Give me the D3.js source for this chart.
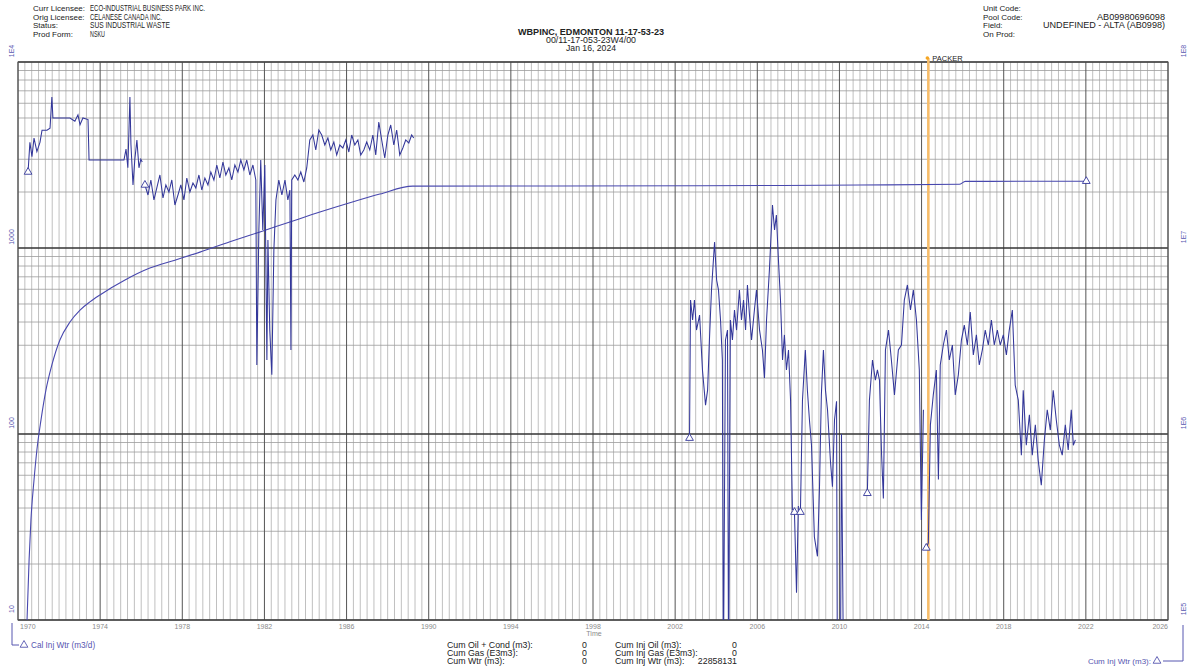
<!DOCTYPE html>
<html><head><meta charset="utf-8">
<script src="https://cdn.jsdelivr.net/npm/d3@7"></script>
<style>
body{margin:0;background:#fff;}
svg{display:block;font-family:"Liberation Sans",Arial,sans-serif;}
</style></head><body>
<svg id="c" width="1196" height="671"></svg>
<script>
// ---------------- DATA ----------------
const xTickYears = [1970,1974,1978,1982,1986,1990,1994,1998,2002,2006,2010,2014,2018,2022,2026];
const leftTickValues = [10,100,1000,10000];
const leftTickLabels = ["10","100","1000","1E4"];
const rightTickValues = [1e5,1e6,1e7,1e8];
const rightTickLabels = ["1E5","1E6","1E7","1E8"];

// Calendar-day water injection rate (m3/d); null = gap (new segment)
const rateYears = [
 1970.49,1970.58,1970.68,1970.78,1970.92,1971.07,1971.17,1971.41,1971.56,1971.65,1971.70,1972.53,1972.77,1972.92,1973.02,1973.16,1973.41,1973.46,1975.16,1975.26,1975.35,1975.45,1975.50,1975.60,1975.69,1975.79,1975.89,1975.98,1976.05,
 1976.10,
 1976.18,1976.33,1976.47,1976.62,1976.76,1976.91,1977.06,1977.20,1977.35,1977.49,1977.64,1977.79,1977.93,1978.08,1978.22,1978.37,1978.52,1978.66,1978.81,1978.95,1979.10,1979.25,1979.39,1979.54,1979.68,1979.83,1979.98,1980.12,1980.27,1980.41,1980.56,1980.71,1980.85,1981.00,1981.14,1981.29,1981.44,1981.58,1981.63,1981.73,1981.82,1981.92,1982.02,1982.12,1982.17,1982.26,1982.36,1982.46,1982.56,1982.70,1982.85,1983.00,1983.14,1983.24,1983.29,1983.33,1983.48,1983.63,1983.77,1983.92,1984.06,1984.21,1984.36,1984.50,1984.65,1984.79,1984.94,1985.09,1985.23,1985.38,1985.52,1985.67,1985.82,1985.96,1986.11,1986.25,1986.40,1986.55,1986.69,1986.84,1986.98,1987.13,1987.28,1987.42,1987.57,1987.71,1987.86,1988.01,1988.15,1988.30,1988.44,1988.59,1988.74,1988.88,1989.03,1989.17,1989.27,
 1995.00,
 2002.70,2002.75,2002.85,2002.94,2003.04,2003.19,2003.33,2003.48,2003.58,2003.67,2003.77,2003.92,2004.02,2004.11,2004.21,2004.30,2004.35,2004.45,2004.55,2004.60,2004.69,2004.79,2004.89,2004.99,2005.13,2005.23,2005.33,2005.43,2005.52,2005.62,2005.72,2005.86,2005.96,2006.11,2006.25,2006.35,2006.45,2006.59,2006.74,2006.84,2006.93,2007.03,2007.13,2007.23,2007.32,2007.42,2007.52,2007.62,2007.71,
 2007.76,
 2007.81,2007.91,2008.00,
 2008.05,
 2008.10,2008.20,2008.34,2008.44,2008.54,2008.64,2008.78,2008.93,2009.03,2009.12,2009.22,2009.32,2009.42,2009.56,2009.66,2009.76,2009.86,2009.90,2010.05,2010.10,2010.20,
 2010.80,
 2011.36,2011.46,2011.61,2011.75,2011.85,2011.95,2012.05,2012.14,2012.24,2012.39,2012.53,2012.68,2012.87,2013.02,2013.16,2013.31,2013.46,2013.60,2013.75,2013.89,2013.99,2014.09,
 2014.15,
 2014.23,2014.33,2014.43,2014.57,2014.72,2014.82,2014.91,2015.06,2015.21,2015.35,2015.50,2015.64,2015.79,2015.94,2016.08,2016.23,2016.37,2016.52,2016.67,2016.81,2016.96,2017.10,2017.25,2017.40,2017.54,2017.69,2017.83,2017.98,2018.13,2018.27,2018.42,2018.56,2018.71,2018.86,2018.95,2019.10,2019.25,2019.39,2019.54,2019.68,2019.83,2019.98,2020.12,2020.27,2020.41,2020.56,2020.71,2020.85,2021.00,2021.14,2021.29,2021.39,2021.49
];
const rateValues = [
 2562,3700,3100,3900,3300,3700,4300,4300,4400,6480,5000,5000,4800,5200,4600,5000,4900,2972,2972,3400,2700,6480,3600,2180,3000,3800,2700,3000,2900,
 null,
 2182,1927,2321,1812,2102,2469,1857,2182,2000,2321,1703,1927,2182,1812,2379,2000,2236,2102,2469,2050,2379,2182,2562,2321,2794,2379,2900,2469,2693,2321,2794,2562,2972,2626,2972,2469,2794,2321,235,1250,2972,1250,2794,250,1104,362,208,976,1812,2321,1927,2321,1812,2050,283,2321,2469,2321,2562,2264,2693,3808,4051,3365,4309,4051,3579,3904,3365,3715,3162,3579,3449,3808,3282,4051,3579,3808,3162,3365,3715,3365,4051,3162,4758,3808,3048,4051,4585,3579,4309,3162,3449,3808,3669,4051,3904,
 null,
 95,525,410,525,362,436,221,143,172,320,595,1077,673,595,410,250,5,320,362,5,410,320,464,362,595,410,525,362,633,436,320,464,595,362,283,200,410,762,1703,1250,1504,862,525,250,341,221,283,152,39,
 null,
 38,14,41,
 null,
 38,152,283,172,119,87,28,22,52,162,283,172,135,72,52,119,150,5,5,100,5,
 null,
 48,152,250,195,221,195,79,45,283,362,250,162,283,301,525,633,464,595,410,221,34.5,135,
 null,
 24.4,26,112,162,221,57,235,301,362,250,301,162,208,320,385,301,453,266,341,235,283,362,301,410,301,362,301,341,266,362,464,183,152,77,172,87,127,77,112,72,53,93,135,105,172,119,87,77,112,82,135,87,93
];

// Cumulative water injection (m3)
const cumYears = [1970.44,1970.54,1970.63,1970.78,1970.92,1971.12,1971.36,1971.65,1972.04,1972.53,1973.02,1973.50,1973.99,1975.21,1976.42,1977.64,1978.86,1980.32,1981.78,1983.24,1984.70,1986.16,1987.62,1989.22,2003.19,2011.00,2015.84,2016.13,2022.02];
const cumValues = [1.0e5,2.1e5,3.45e5,5.66e5,8.2e5,1.19e6,1.72e6,2.35e6,3.2e6,4.0e6,4.64e6,5.13e6,5.59e6,6.73e6,7.8e6,8.6e6,9.5e6,1.08e7,1.22e7,1.38e7,1.56e7,1.75e7,1.95e7,2.15e7,2.16e7,2.18e7,2.2e7,2.28e7,22858131];

const packerYear = 2014.33;
const packerLabel = "PACKER";

const headerLeftLabels = ["Curr Licensee:","Orig Licensee:","Status:","Prod Form:"];
const headerLeftValues = ["ECO-INDUSTRIAL BUSINESS PARK INC.","CELANESE CANADA INC.","SUS INDUSTRIAL WASTE","NSKU"];
const headerCenter = ["WBPINC,   EDMONTON 11-17-53-23","00/11-17-053-23W4/00","Jan 16, 2024"];
const headerRightLabels = ["Unit Code:","Pool Code:","Field:","On Prod:"];
const headerRightValues = ["","AB09980696098","UNDEFINED - ALTA (AB0998)",""];
const footLeftLabels = ["Cum Oil + Cond (m3):","Cum Gas (E3m3):","Cum Wtr (m3):"];
const footLeftValues = ["0","0","0"];
const footRightLabels = ["Cum Inj Oil (m3):","Cum Inj Gas (E3m3):","Cum Inj Wtr (m3):"];
const footRightValues = ["0","0","22858131"];
const legendLeft = "Cal Inj Wtr (m3/d)";
const legendRight = "Cum Inj Wtr (m3):";

// ---------------- DRAW ----------------
const svg = d3.select("#c");
const L=18, R=1168, T=62, B=620;
const BLUE="#33379a", AXBLUE="#5656b0";
const x = d3.scaleLinear().domain([1970,2026]).range([L,R]);
const yL = d3.scaleLog().domain([10,1e4]).range([B,T]);
const yR = d3.scaleLog().domain([1e5,1e8]).range([B,T]);

function txt(px,py,s,o={}){
  const t = svg.append("text").attr("x",px).attr("y",py).text(s)
    .attr("font-size",o.size||8).attr("fill",o.fill||"#222")
    .attr("text-anchor",o.anchor||"start");
  if(o.len){t.attr("textLength",o.len).attr("lengthAdjust","spacingAndGlyphs");}
  if(o.weight) t.attr("font-weight",o.weight);
  return t;
}

// grid
const grid = svg.append("g");
d3.range(0,169).forEach(i=>{
  if(i%12===0) return;
  const xx = x(1970+i/3);
  grid.append("line").attr("x1",xx).attr("x2",xx).attr("y1",T).attr("y2",B)
    .attr("stroke","#b0b0b0").attr("stroke-width",0.8);
});
yL.ticks().forEach(v=>{
  const isDec = Math.abs(Math.log10(v)%1)<1e-9;
  if(isDec) return;
  grid.append("line").attr("x1",L).attr("x2",R).attr("y1",yL(v)).attr("y2",yL(v))
    .attr("stroke","#9c9c9c").attr("stroke-width",0.8);
});
xTickYears.forEach(yr=>{
  grid.append("line").attr("x1",x(yr)).attr("x2",x(yr)).attr("y1",T).attr("y2",B)
    .attr("stroke","#555").attr("stroke-width",1);
});
leftTickValues.forEach(v=>{
  grid.append("line").attr("x1",L).attr("x2",R).attr("y1",yL(v)).attr("y2",yL(v))
    .attr("stroke","#333").attr("stroke-width",1.4);
});
grid.append("rect").attr("x",L).attr("y",T).attr("width",R-L).attr("height",B-T)
  .attr("fill","none").attr("stroke","#555").attr("stroke-width",1);

// packer
svg.append("line").attr("x1",x(packerYear)).attr("x2",x(packerYear)).attr("y1",T-4).attr("y2",B)
  .attr("stroke","#f7bd6a").attr("stroke-width",2.6);
svg.append("circle").attr("cx",x(packerYear)-1).attr("cy",T-4).attr("r",1.8).attr("fill","#f5a623");
txt(x(packerYear)+4,T-1,packerLabel,{size:7.5});

// clip
svg.append("clipPath").attr("id","plotclip").append("rect")
  .attr("x",L).attr("y",T-2).attr("width",R-L).attr("height",B-T+2);

const rateData = d3.zip(rateYears, rateValues);
const rateLine = d3.line().defined(d=>d[1]!=null).x(d=>x(d[0])).y(d=>yL(Math.max(d[1],5)));
const cumData = d3.zip(cumYears, cumValues);
const cumLine = d3.line().x(d=>x(d[0])).y(d=>yR(d[1])).curve(d3.curveMonotoneX);

const lines = svg.append("g").attr("clip-path","url(#plotclip)");
lines.append("path").datum(cumData).attr("d",cumLine).attr("fill","none")
  .attr("stroke","#4848ae").attr("stroke-width",1.1);
lines.append("path").datum(rateData).attr("d",rateLine).attr("fill","none")
  .attr("stroke",BLUE).attr("stroke-width",1.05);

const tri = d3.symbol(d3.symbolTriangle,26);
const starts = rateData.filter((d,i)=>d[1]!=null && (i===0 || rateData[i-1][1]==null));
lines.selectAll(".m").data(starts).enter().append("path")
  .attr("d",tri).attr("transform",d=>`translate(${x(d[0])},${yL(d[1])})`)
  .attr("fill","#fff").attr("stroke",BLUE).attr("stroke-width",0.9);
const lastCum = cumData[cumData.length-1];
svg.append("path").attr("d",tri).attr("transform",`translate(${x(lastCum[0])},${yR(lastCum[1])})`)
  .attr("fill","#fff").attr("stroke",BLUE).attr("stroke-width",0.9);

// x tick labels
xTickYears.forEach((yr,i)=>{
  const a = i===0?"start":(i===xTickYears.length-1?"end":"middle");
  txt(x(yr)+(i===0?2:0),629,String(yr),{size:7,fill:"#8a8a8a",anchor:a});
});
txt(594,636,"Time",{size:7,fill:"#8a8a8a",anchor:"middle"});

// y tick labels (rotated)
leftTickValues.forEach((v,i)=>{
  svg.append("text").attr("transform",`translate(14,${yL(v)-11}) rotate(-90)`)
    .attr("text-anchor","middle").attr("font-size",7).attr("fill",AXBLUE).text(leftTickLabels[i]);
});
rightTickValues.forEach((v,i)=>{
  svg.append("text").attr("transform",`translate(1186,${yR(v)-11}) rotate(-90)`)
    .attr("text-anchor","middle").attr("font-size",7).attr("fill",AXBLUE).text(rightTickLabels[i]);
});

// legend brackets
svg.append("path").attr("d","M12,623 V645 H19").attr("fill","none").attr("stroke",AXBLUE).attr("stroke-width",1);
svg.append("path").attr("d",tri).attr("transform","translate(24,645)").attr("fill","#fff").attr("stroke",AXBLUE).attr("stroke-width",0.9);
txt(31,648,legendLeft,{size:8.2,fill:AXBLUE});
svg.append("path").attr("d","M1163,661 H1183 V625").attr("fill","none").attr("stroke",AXBLUE).attr("stroke-width",1);
svg.append("path").attr("d",tri).attr("transform","translate(1157,661)").attr("fill","#fff").attr("stroke",AXBLUE).attr("stroke-width",0.9);
txt(1151,664,legendRight,{size:8,fill:AXBLUE,anchor:"end"});

// header
headerLeftLabels.forEach((s,i)=>{
  txt(33,11+i*8.5,s,{size:8});
  txt(90,11+i*8.5,headerLeftValues[i],{size:8.3,len:[115,72,80,15][i]});
});
headerCenter.forEach((s,i)=>{
  txt(591,35+i*8.2,s,{size:8.8,anchor:"middle",weight:i===0?"bold":"normal",len:[146,90,50][i]});
});
headerRightLabels.forEach((s,i)=>{
  txt(983,11+i*8.5,s,{size:8});
  if(headerRightValues[i]) txt(1165,11+i*8.5,headerRightValues[i],{size:8.3,anchor:"end",len:[0,68,122,0][i]});
});

// footer
footLeftLabels.forEach((s,i)=>{
  txt(447,648+i*8,s,{size:8.8});
  txt(587,648+i*8,footLeftValues[i],{size:8.8,anchor:"end"});
});
footRightLabels.forEach((s,i)=>{
  txt(615,648+i*8,s,{size:8.8});
  txt(737,648+i*8,footRightValues[i],{size:8.8,anchor:"end"});
});
</script>
</body></html>
